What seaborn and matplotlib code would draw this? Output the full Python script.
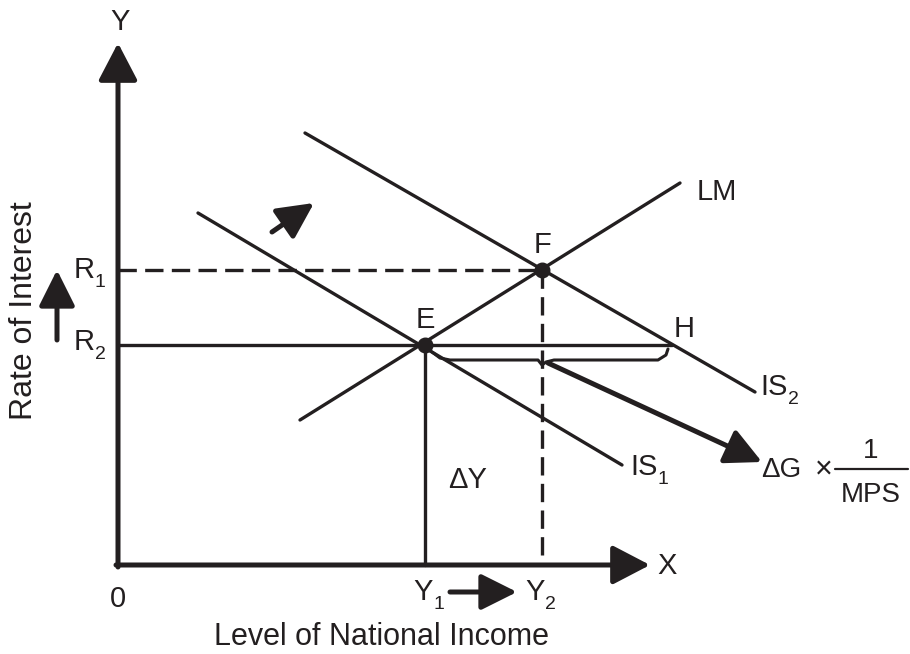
import matplotlib
matplotlib.use("Agg")
import matplotlib.pyplot as plt
import seaborn as sns
import pandas as pd
import numpy as np

sns.set_theme(style="white")
plt.rcParams['font.family'] = ['Liberation Sans', 'DejaVu Sans']

# ---- data (diagram units, origin at the axes' corner) ----
lm_x = [182, 562];  lm_y = [145, 382]
is1_x = [80, 504];  is1_y = [352, 100]
is2_x = [187, 637]; is2_y = [432, 173]
E = (307, 220)
F = (424, 295)
H_x = 554
x_axis_end = 532
y_axis_end = 522
brace_x = [314, 322, 332, 420, 424, 428, 436, 540, 548, 550]
brace_y = [213, 207, 205, 205, 200, 203, 205, 205, 210, 216]

K = "#231f20"
FS = 21
SUB = 14

fig = plt.figure(figsize=(9.1, 6.54), dpi=100)
ax = fig.add_axes([0, 0, 1, 1])
ax.set_xlim(-118, 792)
ax.set_ylim(-89, 565)
ax.axis('off')

lines = pd.concat([
    pd.DataFrame({"x": lm_x, "y": lm_y, "c": "LM"}),
    pd.DataFrame({"x": is1_x, "y": is1_y, "c": "IS1"}),
    pd.DataFrame({"x": is2_x, "y": is2_y, "c": "IS2"}),
])
sns.lineplot(data=lines, x="x", y="y", units="c", estimator=None,
             color=K, lw=2.4, ax=ax, legend=False)

# axes with arrowheads
axkw = dict(arrowstyle="-|>,head_length=1.15,head_width=0.6", color=K, lw=3.6,
            mutation_scale=20, shrinkA=0, shrinkB=0)
ax.annotate("", xy=(0, y_axis_end), xytext=(0, -2), arrowprops=axkw)
ax.annotate("", xy=(x_axis_end, 0), xytext=(-2, 0), arrowprops=axkw)

# guides
ax.plot([0, F[0]], [F[1], F[1]], color=K, lw=2.4, ls=(0, (5.5, 2.5)))
ax.plot([F[0], F[0]], [F[1], 0], color=K, lw=2.4, ls=(0, (5.5, 2.5)))
ax.plot([0, H_x], [E[1], E[1]], color=K, lw=2.4)
ax.plot([E[0], E[0]], [E[1], 0], color=K, lw=2.4)
ax.plot(brace_x, brace_y, color=K, lw=2.2)

ax.scatter([E[0], F[0]], [E[1], F[1]], s=110, color=K, zorder=5)

# arrows
akw = dict(arrowstyle="-|>,head_length=1.1,head_width=0.55", color=K, lw=3.6,
           mutation_scale=20, shrinkA=0, shrinkB=0)
ax.annotate("", xy=(644, 103), xytext=(430, 202), arrowprops=akw)
ax.annotate("", xy=(196, 362), xytext=(154, 333), arrowprops=akw)
ax.annotate("", xy=(-61, 295), xytext=(-61, 225), arrowprops=akw)
ax.annotate("", xy=(399, -27), xytext=(332, -27), arrowprops=akw)

renderer = fig.canvas.get_renderer()


def label(x, y, main, sub=None, ha="center", fs=FS):
    t = ax.text(x, y, main, ha=ha, va="baseline", fontsize=fs, color=K)
    if sub:
        bb = t.get_window_extent(renderer=renderer)
        xd, _ = ax.transData.inverted().transform((bb.x1, bb.y0))
        ax.annotate(sub, xy=(xd, y), xytext=(0.3, -6.5), textcoords="offset points",
                    ha="left", va="baseline", fontsize=SUB, color=K)
    return t


label(2, 535, "Y")
label(549, -9, "X")
label(0, -42, "0")
label(-34, 287, "R", "1")
label(-34, 215, "R", "2")
label(E[0], 237, "E")
label(F[0], 312, "F")
label(566, 228, "H")
label(579, 365, "LM", ha="left")
label(642, 170, "IS", "2", ha="left")
label(512, 90, "IS", "1", ha="left")
label(350, 77, "ΔY")
label(305, -35, "Y", "1")
label(417, -35, "Y", "2")
label(663, 88, "ΔG", fs=20)
ax.text(706, 95, "×", ha="center", va="center", fontsize=22, color=K)
ax.plot([717, 790], [96, 96], color=K, lw=1.6)
label(753, 107, "1", fs=20)
label(753, 63, "MPS", fs=20)
label(264, -80, "Level of National Income", fs=22)
ax.text(-94, 254, "Rate of Interest", ha="center", va="center", rotation=90,
        fontsize=23, color=K)

fig.savefig("out.png", dpi=100, facecolor="white")
